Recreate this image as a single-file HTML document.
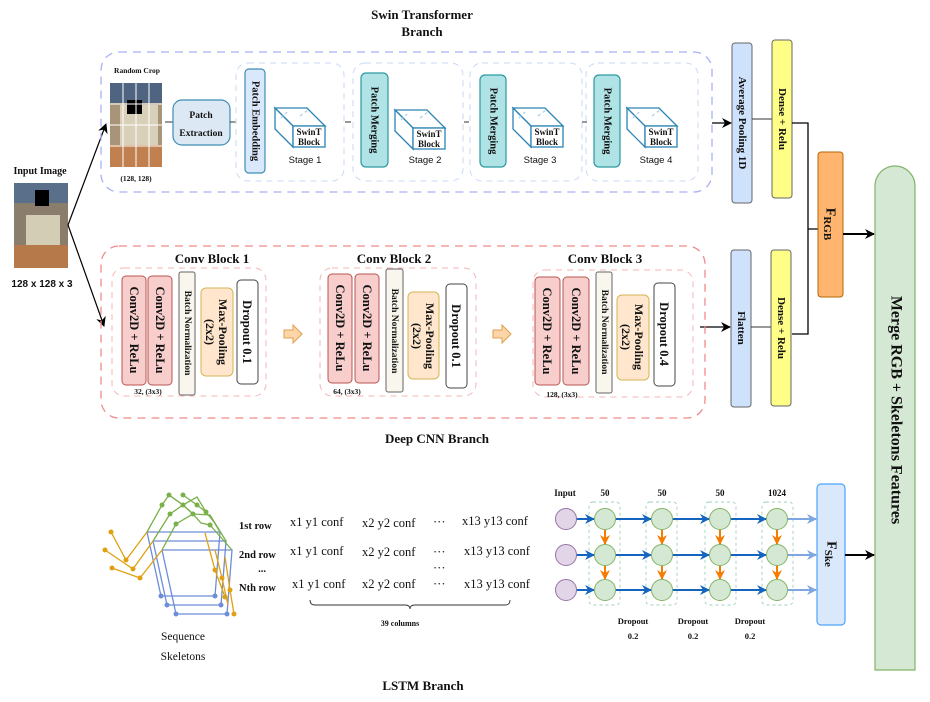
<!DOCTYPE html>
<html><head><meta charset="utf-8"><style>
html,body{margin:0;padding:0;background:#fff;}
svg{display:block;}
.t{font-family:"Liberation Serif",serif;font-weight:bold;fill:#111;}
.s{font-family:"Liberation Sans",sans-serif;fill:#111;}
.r{font-family:"Liberation Serif",serif;fill:#111;}
</style></head><body>
<svg width="930" height="702" viewBox="0 0 930 702" xmlns="http://www.w3.org/2000/svg">
<defs>
<marker id="ab" markerWidth="10" markerHeight="10" refX="9" refY="5" orient="auto" markerUnits="userSpaceOnUse"><path d="M0,0 L10,5 L0,10 L3,5 z" fill="#000"/></marker>
<marker id="abl" markerWidth="10" markerHeight="10" refX="9" refY="5" orient="auto" markerUnits="userSpaceOnUse"><path d="M0,0 L10,5 L0,10 L3,5 z" fill="#1565c0"/></marker>
<marker id="alb" markerWidth="10" markerHeight="10" refX="9" refY="5" orient="auto" markerUnits="userSpaceOnUse"><path d="M0,0 L10,5 L0,10 L3,5 z" fill="#7ea6e0"/></marker>
<marker id="aor" markerWidth="10" markerHeight="10" refX="9" refY="5" orient="auto" markerUnits="userSpaceOnUse"><path d="M0,0 L10,5 L0,10 L3,5 z" fill="#f57c00"/></marker>
<g id="cube" fill="#fff" stroke="#2b83b5" stroke-width="1.3">
<polygon points="0,0 32,0 50,18 18,18"/><polygon points="0,0 18,18 18,39 0,21"/><rect x="18" y="18" width="32" height="21"/>
<line x1="6" y1="10" x2="12" y2="4" stroke="#a8d0e8" stroke-dasharray="3,3"/><line x1="25" y1="8" x2="33" y2="2" stroke="#a8d0e8" stroke-dasharray="3,3"/>
</g>
<g id="blkarr"><path d="M0,-4 L9,-4 L9,-9 L18,0 L9,9 L9,4 L0,4 z" fill="#fcd5a8" stroke="#e0a050" stroke-width="1"/></g>
</defs>

<text class="t" x="422" y="19" font-size="13" text-anchor="middle">Swin Transformer</text>
<text class="t" x="422" y="36" font-size="13" text-anchor="middle">Branch</text>
<text class="t" x="437" y="443" font-size="13" text-anchor="middle">Deep CNN Branch</text>
<text class="t" x="423" y="690" font-size="13" text-anchor="middle">LSTM Branch</text>

<text class="t" x="40" y="174" font-size="10" text-anchor="middle">Input Image</text>
<rect x="14" y="183" width="54" height="85" fill="#8b7d6b"/>
<rect x="14" y="183" width="54" height="20" fill="#5a6f8a"/>
<rect x="26" y="215" width="34" height="35" fill="#d4cdb6"/>
<rect x="14" y="245" width="54" height="23" fill="#b67a4a"/>
<rect x="35" y="190" width="14" height="16" fill="#000"/>
<text class="s" x="42" y="287" font-size="10" font-weight="bold" text-anchor="middle">128 x 128 x 3</text>
<line x1="68" y1="225" x2="106" y2="124" stroke="#000" stroke-width="1.2" marker-end="url(#ab)"/>
<line x1="68" y1="225" x2="104" y2="326" stroke="#000" stroke-width="1.2" marker-end="url(#ab)"/>

<rect x="101" y="52" width="611" height="140" rx="18" fill="none" stroke="#a9b0f5" stroke-width="1.3" stroke-dasharray="8,6"/>
<text class="t" x="137" y="73" font-size="7.5" text-anchor="middle">Random Crop</text>
<rect x="110" y="83" width="52" height="84" fill="#a89478"/>
<rect x="110" y="83" width="52" height="20" fill="#4f6480"/>
<rect x="120" y="105" width="38" height="40" fill="#d8d0b8"/>
<rect x="110" y="145" width="52" height="22" fill="#c08050"/>
<rect x="127" y="100" width="15" height="14" fill="#000"/>
<g stroke="#fff" stroke-width="1"><line x1="123" y1="83" x2="123" y2="167"/><line x1="136" y1="83" x2="136" y2="167"/><line x1="149" y1="83" x2="149" y2="167"/><line x1="110" y1="104" x2="162" y2="104"/><line x1="110" y1="125" x2="162" y2="125"/><line x1="110" y1="146" x2="162" y2="146"/></g>
<text class="t" x="136" y="181" font-size="7.5" text-anchor="middle">(128, 128)</text>
<line x1="165" y1="122" x2="173" y2="122" stroke="#333"/>
<rect x="173" y="100" width="57" height="45" rx="9" fill="#dce8f3" stroke="#3e8db4" stroke-width="1.2"/>
<text class="t" x="201" y="118" font-size="9.5" text-anchor="middle">Patch</text>
<text class="t" x="201" y="136" font-size="9.5" text-anchor="middle">Extraction</text>
<line x1="230" y1="122" x2="236" y2="122" stroke="#333"/>

<g fill="none" stroke="#c8daf5" stroke-width="1" stroke-dasharray="6,5">
<rect x="236" y="63" width="108" height="118" rx="12"/>
<rect x="353" y="63" width="110" height="118" rx="12"/>
<rect x="470" y="63" width="112" height="118" rx="12"/>
<rect x="586" y="63" width="112" height="118" rx="12"/>
</g>
<line x1="345" y1="122" x2="351" y2="122" stroke="#333"/>
<line x1="464" y1="122" x2="469" y2="122" stroke="#333"/>
<line x1="582" y1="122" x2="587" y2="122" stroke="#333"/>

<rect x="245" y="69" width="20" height="104" rx="4" fill="#dae8fc" stroke="#3e8db4" stroke-width="1.2"/>
<text class="t" transform="translate(255,121) rotate(90)" font-size="10.5" text-anchor="middle" dominant-baseline="central">Patch Embedding</text>
<rect x="361" y="73" width="27" height="94" rx="5" fill="#b0e3e6" stroke="#2a9aa0" stroke-width="1.2"/>
<text class="t" transform="translate(374,120) rotate(90)" font-size="10.5" text-anchor="middle" dominant-baseline="central">Patch Merging</text>
<rect x="480" y="75" width="26" height="92" rx="5" fill="#b0e3e6" stroke="#2a9aa0" stroke-width="1.2"/>
<text class="t" transform="translate(493,121) rotate(90)" font-size="10.5" text-anchor="middle" dominant-baseline="central">Patch Merging</text>
<rect x="594" y="75" width="26" height="92" rx="5" fill="#b0e3e6" stroke="#2a9aa0" stroke-width="1.2"/>
<text class="t" transform="translate(607,121) rotate(90)" font-size="10.5" text-anchor="middle" dominant-baseline="central">Patch Merging</text>

<use href="#cube" x="275" y="108"/><use href="#cube" x="395" y="110"/><use href="#cube" x="513" y="108"/><use href="#cube" x="627" y="108"/>
<g font-size="9" text-anchor="middle" class="t">
<text x="309" y="135">SwinT</text><text x="309" y="145">Block</text>
<text x="429" y="137">SwinT</text><text x="429" y="147">Block</text>
<text x="547" y="135">SwinT</text><text x="547" y="145">Block</text>
<text x="661" y="135">SwinT</text><text x="661" y="145">Block</text>
</g>
<g class="s" font-size="9.5" text-anchor="middle">
<text x="305" y="163">Stage 1</text><text x="425" y="163">Stage 2</text><text x="540" y="163">Stage 3</text><text x="656" y="163">Stage 4</text>
</g>

<line x1="712" y1="123" x2="731" y2="123" stroke="#000" stroke-width="1.3" marker-end="url(#ab)"/>
<rect x="732" y="43" width="20" height="160" rx="3" fill="#cfe2fb" stroke="#666" stroke-width="1"/>
<text class="t" transform="translate(742,123) rotate(90)" font-size="11" text-anchor="middle" dominant-baseline="central">Average Pooling 1D</text>
<line x1="752" y1="119" x2="772" y2="119" stroke="#333"/>
<rect x="772" y="40" width="20" height="158" rx="3" fill="#ffff88" stroke="#666" stroke-width="1"/>
<text class="t" transform="translate(782,119) rotate(90)" font-size="11" text-anchor="middle" dominant-baseline="central">Dense + Relu</text>

<line x1="700" y1="327" x2="730" y2="327" stroke="#000" stroke-width="1.3" marker-end="url(#ab)"/>
<rect x="731" y="250" width="20" height="157" rx="3" fill="#cfe2fb" stroke="#666" stroke-width="1"/>
<text class="t" transform="translate(741,328) rotate(90)" font-size="11" text-anchor="middle" dominant-baseline="central">Flatten</text>
<line x1="751" y1="327" x2="771" y2="327" stroke="#333"/>
<rect x="771" y="250" width="20" height="156" rx="3" fill="#ffff88" stroke="#666" stroke-width="1"/>
<text class="t" transform="translate(781,328) rotate(90)" font-size="11" text-anchor="middle" dominant-baseline="central">Dense + Relu</text>

<path d="M792,123 L808,123 L808,334 L792,334 M808,229 L818,229" fill="none" stroke="#000" stroke-width="1.3"/>
<rect x="818" y="152" width="25" height="145" rx="3" fill="#ffb570" stroke="#b46504" stroke-width="1"/>
<text class="t" transform="translate(830,224) rotate(90)" font-size="14" text-anchor="middle" dominant-baseline="central">F<tspan font-size="11" dy="3">RGB</tspan></text>
<line x1="843" y1="234" x2="874" y2="234" stroke="#000" stroke-width="2" marker-end="url(#ab)"/>

<path d="M875,670 L875,186 A20,20 0 0 1 915,186 L915,670 z" fill="#d5e8d4" stroke="#82b366" stroke-width="1.2"/>
<text class="t" transform="translate(896,410) rotate(90)" font-size="16" text-anchor="middle" dominant-baseline="central">Merge RGB + Skeletons Features</text>

<rect x="101" y="246" width="604" height="172" rx="18" fill="none" stroke="#f08a8a" stroke-width="1.3" stroke-dasharray="8,6"/>
<g fill="none" stroke="#f5b5b5" stroke-width="1" stroke-dasharray="6,5">
<rect x="112" y="268" width="154" height="128" rx="12"/>
<rect x="320" y="268" width="156" height="128" rx="12"/>
<rect x="533" y="270" width="160" height="127" rx="12"/>
</g>
<text class="t" x="212" y="263" font-size="13" text-anchor="middle">Conv Block 1</text>
<text class="t" x="394" y="263" font-size="13" text-anchor="middle">Conv Block 2</text>
<text class="t" x="605" y="263" font-size="13" text-anchor="middle">Conv Block 3</text>

<rect x="122" y="276" width="24" height="109" rx="4" fill="#f8cecc" stroke="#b85450"/>
<rect x="148" y="276" width="24" height="109" rx="4" fill="#f8cecc" stroke="#b85450"/>
<rect x="179" y="272" width="16" height="123" rx="2" fill="#f9f7ed" stroke="#666"/>
<rect x="201" y="288" width="32" height="88" rx="5" fill="#ffe6cc" stroke="#d6b656"/>
<rect x="237" y="280" width="21" height="104" rx="4" fill="#fff" stroke="#444"/>
<g class="t" text-anchor="middle" dominant-baseline="central">
<text transform="translate(134,330) rotate(90)" font-size="12.5">Conv2D + ReLu</text>
<text transform="translate(160,330) rotate(90)" font-size="12.5">Conv2D + ReLu</text>
<text transform="translate(187,333) rotate(90)" font-size="9.5">Batch Normalization</text>
<text transform="translate(223,332) rotate(90)" font-size="12">Max-Pooling</text>
<text transform="translate(210,332) rotate(90)" font-size="12">(2x2)</text>
<text transform="translate(247,332) rotate(90)" font-size="12.5">Dropout 0.1</text>
</g>
<text class="t" x="148" y="394" font-size="7.5" text-anchor="middle">32, (3x3)</text>
<use href="#blkarr" x="284" y="334"/>

<rect x="328" y="274" width="24" height="109" rx="4" fill="#f8cecc" stroke="#b85450"/>
<rect x="355" y="274" width="24" height="109" rx="4" fill="#f8cecc" stroke="#b85450"/>
<rect x="386" y="269" width="17" height="123" rx="2" fill="#f9f7ed" stroke="#666"/>
<rect x="408" y="292" width="31" height="87" rx="5" fill="#ffe6cc" stroke="#d6b656"/>
<rect x="446" y="284" width="21" height="104" rx="4" fill="#fff" stroke="#444"/>
<g class="t" text-anchor="middle" dominant-baseline="central">
<text transform="translate(340,328) rotate(90)" font-size="12.5">Conv2D + ReLu</text>
<text transform="translate(367,328) rotate(90)" font-size="12.5">Conv2D + ReLu</text>
<text transform="translate(394,331) rotate(90)" font-size="9.5">Batch Normalization</text>
<text transform="translate(430,336) rotate(90)" font-size="12">Max-Pooling</text>
<text transform="translate(417,336) rotate(90)" font-size="12">(2x2)</text>
<text transform="translate(456,336) rotate(90)" font-size="12.5">Dropout 0.1</text>
</g>
<text class="t" x="347" y="394" font-size="7.5" text-anchor="middle">64, (3x3)</text>
<use href="#blkarr" x="493" y="334"/>

<rect x="535" y="277" width="25" height="108" rx="4" fill="#f8cecc" stroke="#b85450"/>
<rect x="563" y="277" width="26" height="108" rx="4" fill="#f8cecc" stroke="#b85450"/>
<rect x="596" y="272" width="16" height="121" rx="2" fill="#f9f7ed" stroke="#666"/>
<rect x="617" y="295" width="32" height="85" rx="5" fill="#ffe6cc" stroke="#d6b656"/>
<rect x="654" y="283" width="21" height="103" rx="4" fill="#fff" stroke="#444"/>
<g class="t" text-anchor="middle" dominant-baseline="central">
<text transform="translate(547,331) rotate(90)" font-size="12.5">Conv2D + ReLu</text>
<text transform="translate(576,331) rotate(90)" font-size="12.5">Conv2D + ReLu</text>
<text transform="translate(604,332) rotate(90)" font-size="9.5">Batch Normalization</text>
<text transform="translate(639,337) rotate(90)" font-size="12">Max-Pooling</text>
<text transform="translate(626,337) rotate(90)" font-size="12">(2x2)</text>
<text transform="translate(664,334) rotate(90)" font-size="12.5">Dropout 0.4</text>
</g>
<text class="t" x="562" y="397" font-size="7.5" text-anchor="middle">128, (3x3)</text>

<g stroke-width="1.3" fill="none">
<g stroke="#6c8ed8">
<polyline points="147,532 220,532 215,596 161,596 147,532"/>
<polyline points="153,541 226,541 221,605 167,605 153,541"/>
<polyline points="162,550 232,550 227,614 176,614 162,550"/>
</g>
<g stroke="#7ab04a">
<polyline points="147,532 162,505 169,495 183,505 197,497 206,512 214,522 220,532"/>
<polyline points="153,541 170,514 183,505 193,514 210,515 226,541"/>
<polyline points="162,550 176,524 193,514 201,523 210,525 232,550"/>
<polyline points="169,495 183,505 193,514"/><polyline points="183,495 197,505 206,512"/>
</g>
<g stroke="#e0a010">
<polyline points="111,532 126,560 147,532"/>
<polyline points="105,550 133,569 153,541"/>
<polyline points="112,568 140,578 162,550"/>
<polyline points="205,533 215,570 225,597"/>
<polyline points="215,550 222,578 228,605"/>
<polyline points="225,557 230,590 234,614"/>
</g>
</g>
<g fill="#e0a010"><circle cx="111" cy="532" r="2.5"/><circle cx="126" cy="560" r="2.5"/><circle cx="105" cy="550" r="2.5"/><circle cx="133" cy="569" r="2.5"/><circle cx="112" cy="568" r="2.5"/><circle cx="140" cy="578" r="2.5"/><circle cx="215" cy="570" r="2.5"/><circle cx="222" cy="578" r="2.5"/><circle cx="230" cy="590" r="2.5"/><circle cx="234" cy="614" r="2.5"/><circle cx="225" cy="597" r="2.5"/></g>
<g fill="#7ab04a"><circle cx="169" cy="495" r="2.5"/><circle cx="183" cy="495" r="2.5"/><circle cx="183" cy="505" r="2.5"/><circle cx="197" cy="505" r="2.5"/><circle cx="193" cy="514" r="2.5"/><circle cx="206" cy="512" r="2.5"/><circle cx="162" cy="505" r="2.5"/><circle cx="176" cy="524" r="2.5"/><circle cx="170" cy="514" r="2.5"/><circle cx="210" cy="525" r="2.5"/></g>
<g fill="#6c8ed8"><circle cx="161" cy="596" r="2.5"/><circle cx="215" cy="596" r="2.5"/><circle cx="167" cy="605" r="2.5"/><circle cx="221" cy="605" r="2.5"/><circle cx="176" cy="614" r="2.5"/><circle cx="227" cy="614" r="2.5"/></g>
<text class="r" x="183" y="640" font-size="11.5" text-anchor="middle">Sequence</text>
<text class="r" x="183" y="660" font-size="11.5" text-anchor="middle">Skeletons</text>

<g class="t" font-size="10.5"><text x="239" y="529">1st row</text><text x="239" y="558">2nd row</text><text x="239" y="591">Nth row</text><text x="262" y="572" text-anchor="middle">...</text></g>
<g class="r" font-size="12.5">
<text x="290" y="526">x1 y1 conf</text><text x="362" y="527">x2 y2 conf</text><text x="433" y="526">···</text><text x="462" y="525">x13 y13 conf</text>
<text x="290" y="555">x1 y1 conf</text><text x="362" y="556">x2 y2 conf</text><text x="433" y="556">···</text><text x="464" y="555">x13 y13 conf</text>
<text x="433" y="572">···</text>
<text x="292" y="588">x1 y1 conf</text><text x="362" y="588">x2 y2 conf</text><text x="433" y="588">···</text><text x="464" y="588">x13 y13 conf</text>
</g>
<path d="M310,600 Q310,605 315,605 L405,605 Q410,605 410,609 Q410,605 415,605 L505,605 Q510,605 510,600" fill="none" stroke="#333" stroke-width="0.9"/>
<text class="t" x="400" y="626" font-size="8" text-anchor="middle">39 columns</text>

<g class="t" font-size="9" text-anchor="middle"><text x="565" y="496">Input</text><text x="605" y="496">50</text><text x="662" y="496">50</text><text x="720" y="496">50</text><text x="777" y="496">1024</text></g>
<g fill="none" stroke="#9fcfb8" stroke-width="0.9" stroke-dasharray="3,3">
<rect x="589" y="502" width="31" height="103" rx="4"/><rect x="646" y="502" width="31" height="103" rx="4"/><rect x="705" y="502" width="31" height="103" rx="4"/><rect x="762" y="502" width="31" height="103" rx="4"/>
</g>
<g stroke-width="2">
<g stroke="#1565c0" marker-end="url(#abl)">
<line x1="576" y1="519" x2="594" y2="519"/><line x1="615" y1="519" x2="651" y2="519"/><line x1="672" y1="519" x2="709" y2="519"/><line x1="730" y1="519" x2="766" y2="519"/>
<line x1="576" y1="555" x2="594" y2="555"/><line x1="615" y1="555" x2="651" y2="555"/><line x1="672" y1="555" x2="709" y2="555"/><line x1="730" y1="555" x2="766" y2="555"/>
<line x1="576" y1="590" x2="594" y2="590"/><line x1="615" y1="590" x2="651" y2="590"/><line x1="672" y1="590" x2="709" y2="590"/><line x1="730" y1="590" x2="766" y2="590"/>
</g>
<g stroke="#7ea6e0" marker-end="url(#alb)">
<line x1="787" y1="519" x2="816" y2="519"/><line x1="787" y1="555" x2="816" y2="555"/><line x1="787" y1="590" x2="816" y2="590"/>
</g>
<g stroke="#f57c00" marker-end="url(#aor)">
<line x1="605" y1="530" x2="605" y2="544"/><line x1="605" y1="566" x2="605" y2="579"/>
<line x1="662" y1="530" x2="662" y2="544"/><line x1="662" y1="566" x2="662" y2="579"/>
<line x1="720" y1="530" x2="720" y2="544"/><line x1="720" y1="566" x2="720" y2="579"/>
<line x1="777" y1="530" x2="777" y2="544"/><line x1="777" y1="566" x2="777" y2="579"/>
</g>
</g>
<g fill="#e1d5e7" stroke="#9673a6" stroke-width="1"><circle cx="566" cy="519" r="10.5"/><circle cx="566" cy="555" r="10.5"/><circle cx="566" cy="590" r="10.5"/></g>
<g fill="#d5e8d4" stroke="#82b366" stroke-width="1">
<circle cx="605" cy="519" r="10.5"/><circle cx="605" cy="555" r="10.5"/><circle cx="605" cy="590" r="10.5"/>
<circle cx="662" cy="519" r="10.5"/><circle cx="662" cy="555" r="10.5"/><circle cx="662" cy="590" r="10.5"/>
<circle cx="720" cy="519" r="10.5"/><circle cx="720" cy="555" r="10.5"/><circle cx="720" cy="590" r="10.5"/>
<circle cx="777" cy="519" r="10.5"/><circle cx="777" cy="555" r="10.5"/><circle cx="777" cy="590" r="10.5"/>
</g>
<g class="t" font-size="8.5" text-anchor="middle">
<text x="633" y="624">Dropout</text><text x="633" y="639">0.2</text>
<text x="693" y="624">Dropout</text><text x="693" y="639">0.2</text>
<text x="750" y="624">Dropout</text><text x="750" y="639">0.2</text>
</g>
<rect x="817" y="484" width="28" height="141" rx="4" fill="#dae8fc" stroke="#4da3ff" stroke-width="1.2"/>
<text class="t" transform="translate(831,554) rotate(90)" font-size="14" text-anchor="middle" dominant-baseline="central">F<tspan font-size="11" dy="3">Ske</tspan></text>
<line x1="845" y1="555" x2="874" y2="555" stroke="#000" stroke-width="2" marker-end="url(#ab)"/>
</svg>
</body></html>
